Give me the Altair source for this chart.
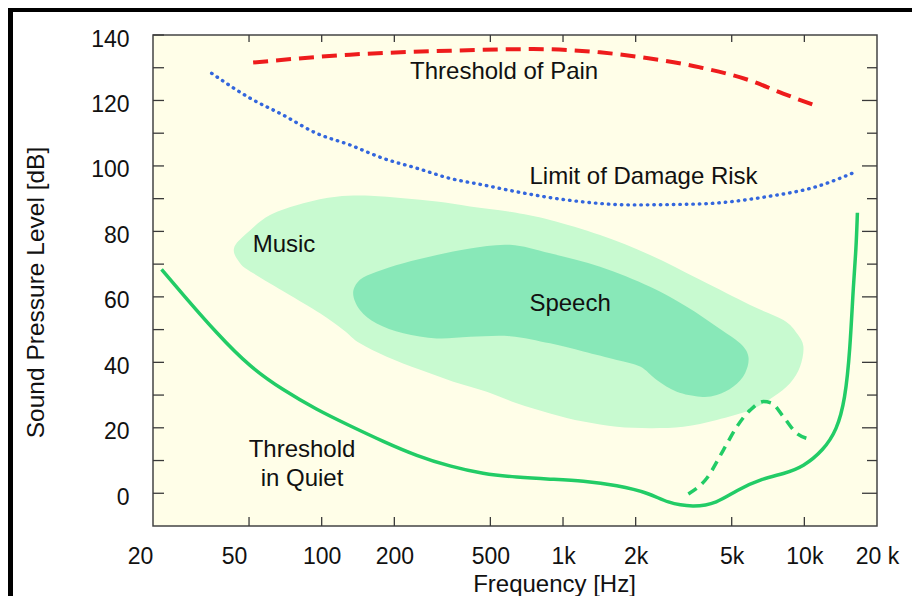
import altair as alt
import pandas as pd

FONT = "Liberation Sans"

# ---------------- data ----------------
# Threshold of Pain (red dashed)
pain_f = [52, 131, 340, 751, 1424, 2294, 3698, 5961, 8166, 10870]
pain_db = [131.6, 134.0, 135.2, 135.7, 134.7, 132.8, 130.1, 126.1, 122.1, 118.7]

# Limit of Damage Risk (blue dotted)
damage_f = [35, 50.5, 69, 95, 131, 180, 248, 340, 466, 643, 1036, 1951, 3698, 6988, 11260, 15970]
damage_db = [128.3, 120.7, 115.6, 110.0, 106.4, 102.3, 99.3, 96.2, 94.2, 92.1, 89.6, 88.1, 88.4, 90.6, 93.7, 97.9]

# Threshold in Quiet (green solid)
quiet_f = [21.7, 26.7, 36.7, 50.5, 69.3, 95, 131, 180, 248, 340, 466, 643, 884, 1214, 1670,
           2294, 2690, 3468, 4336, 5248, 6765, 8184, 9910, 12000, 13630, 14750, 15470, 15970, 16380, 16590]
quiet_db = [68.4, 60.6, 48.9, 38.5, 31.5, 25.6, 20.6, 15.8, 11.4, 8.2, 5.9, 4.9, 4.3, 3.8, 2.5,
            0.0, -2.9, -4.3, -3.1, 1.0, 4.6, 5.9, 8.1, 13.2, 19.3, 28.5, 43.8, 64.2, 74.3, 85.7]

# masked threshold (green dashed)
masked_f = [3306, 3942, 4618, 5248, 5961, 6765, 7328, 8184, 9304, 10300]
masked_db = [-0.2, 4.6, 13.2, 20.3, 25.4, 28.0, 27.5, 23.4, 18.3, 16.7]

# Music region outline (clockwise)
music_f = [43.3, 48.9, 61.1, 83.9, 115, 159, 218, 300, 412, 603, 884, 1424, 2294, 3698, 5961,
           8188, 9304, 9910, 9604, 8726, 7444, 5961, 4336, 3152, 2294, 1670, 1214, 884, 643,
           483, 351, 256, 186, 144, 123, 98.4, 71.6, 52.1, 45.9]
music_db = [74.8, 79.4, 85.0, 88.6, 90.6, 90.9, 90.1, 89.1, 87.6, 86.0, 83.5, 78.9, 72.8, 65.2, 57.5,
            52.9, 48.9, 44.8, 38.7, 33.6, 29.5, 25.4, 22.4, 20.3, 19.9, 20.3, 21.9, 24.4, 27.5,
            31.0, 34.1, 37.7, 41.7, 45.8, 49.9, 55.0, 61.1, 67.2, 70.3]

# Speech region outline (clockwise)
speech_f = [135, 144, 169, 218, 300, 412, 603, 884, 1424, 2294, 3257, 4336, 5417, 5864, 5681,
            5082, 4336, 3698, 2960, 2446, 2086, 1670, 1214, 884, 603, 412, 300, 218, 169, 144]
speech_db = [61.1, 65.2, 67.7, 70.3, 72.8, 74.8, 75.9, 73.3, 69.2, 63.1, 57.0, 50.9, 45.8, 41.7, 36.7,
             32.6, 30.0, 29.5, 31.0, 34.6, 38.7, 40.7, 43.3, 45.8, 48.0, 47.8, 47.3, 48.9, 51.9, 56.0]

# annotations
ann_text = ["Threshold of Pain", "Limit of Damage Risk", "Music", "Speech", "Threshold", "in Quiet"]
ann_f = [570, 2156, 69.8, 1070, 82.9, 82.9]
ann_db = [128.7, 96.7, 75.9, 57.8, 13.2, 4.3]

# axes
x_tick_vals = [20, 50, 100, 200, 500, 1000, 2000, 5000, 10000, 20000]
x_tick_labels = ["20", "50", "100", "200", "500", "1k", "2k", "5k", "10k", "20 k"]
x_inner_ticks = [50, 100, 200, 500, 1000, 2000, 5000, 10000]
y_label_vals = [0, 20, 40, 60, 80, 100, 120, 140]
y_major_ticks = [0, 20, 40, 60, 80, 100, 120]
y_minor_ticks = [10, 30, 50, 70, 90, 110, 130]

W, H = 724, 491
TICK = "#3a3a3a"
TXT = "#111111"

XS = alt.Scale(type="log", domain=[20, 20000], nice=False)
YS = alt.Scale(domain=[-10, 140], nice=False, zero=False)

label_expr = " : ".join(f"datum.value == {v} ? '{l}'" for v, l in zip(x_tick_vals, x_tick_labels)) + " : ''"

x_axis = alt.Axis(
    values=x_tick_vals, labelExpr=label_expr, ticks=False, domain=False, grid=False,
    labelFlush=False, labelOverlap=False, labelFont=FONT, labelFontSize=23, labelColor=TXT,
    labelBaseline="alphabetic", labelPadding=37,
    labelOffset={"condition": [{"test": "datum.value == 20", "value": -13},
                               {"test": "datum.value == 50", "value": -15}], "value": 0},
    title="Frequency [Hz]", titleFont=FONT, titleFontSize=24, titleFontWeight="normal",
    titleColor=TXT, titleX=401, titleY=65, titleAlign="center", titleBaseline="alphabetic",
)
y_axis = alt.Axis(
    values=y_label_vals, ticks=False, domain=False, grid=False, labelFlush=False,
    labelOverlap=False, labelFont=FONT, labelFontSize=23, labelColor=TXT, labelPadding=24,
    labelOffset=4,
    title="Sound Pressure Level [dB]", titleFont=FONT, titleFontSize=24.5, titleFontWeight="normal",
    titleColor=TXT, titleAngle=-90, titleX=-110, titleY=257, titleAlign="center",
    titleBaseline="alphabetic",
)

X = alt.X("f:Q", scale=XS, axis=x_axis)
Y = alt.Y("db:Q", scale=YS, axis=y_axis)


def series(fs, dbs):
    return pd.DataFrame({"f": fs, "db": dbs, "i": list(range(len(fs)))})


music = alt.Chart(series(music_f, music_db)).mark_line(
    filled=True, interpolate="cardinal-closed", color="#c8fad0"
).encode(x=X, y=Y, order="i:Q")

speech = alt.Chart(series(speech_f, speech_db)).mark_line(
    filled=True, interpolate="cardinal-closed", color="#88e8b8"
).encode(x=X, y=Y, order="i:Q")

pain = alt.Chart(series(pain_f, pain_db)).mark_line(
    color="#ee1c1c", strokeWidth=4, strokeDash=[15, 8], interpolate="monotone"
).encode(x=X, y=Y, order="i:Q")

damage = alt.Chart(series(damage_f, damage_db)).mark_line(
    color="#3366dd", strokeWidth=3.4, strokeDash=[0.5, 6], strokeCap="round", interpolate="monotone"
).encode(x=X, y=Y, order="i:Q")

quiet = alt.Chart(series(quiet_f, quiet_db)).mark_line(
    color="#22cc66", strokeWidth=3.5, interpolate="basis"
).encode(x=X, y=Y, order="i:Q")

masked = alt.Chart(series(masked_f, masked_db)).mark_line(
    color="#22cc66", strokeWidth=3.5, strokeDash=[10, 7], interpolate="monotone"
).encode(x=X, y=Y, order="i:Q")

ann = alt.Chart(pd.DataFrame({"f": ann_f, "db": ann_db, "t": ann_text})).mark_text(
    font=FONT, fontSize=24, color=TXT, align="center", baseline="middle"
).encode(x=X, y=Y, text="t:N")

xt = pd.DataFrame({"f": x_inner_ticks})
bottom_ticks = alt.Chart(xt).mark_rule(color=TICK, strokeWidth=1.3).encode(
    x=X, y=alt.value(H), y2=alt.value(H - 9))
top_ticks = alt.Chart(xt).mark_rule(color=TICK, strokeWidth=1.3).encode(
    x=X, y=alt.value(0), y2=alt.value(7))

left_ticks = alt.Chart(pd.DataFrame({"db": y_major_ticks + y_minor_ticks + [140]})).mark_rule(
    color=TICK, strokeWidth=1.3).encode(y=Y, x=alt.value(0), x2=alt.value(11))
right_major = alt.Chart(pd.DataFrame({"db": y_major_ticks})).mark_rule(
    color=TICK, strokeWidth=1.3).encode(y=Y, x=alt.value(W), x2=alt.value(W - 15))
right_minor = alt.Chart(pd.DataFrame({"db": y_minor_ticks})).mark_rule(
    color=TICK, strokeWidth=1.3).encode(y=Y, x=alt.value(W), x2=alt.value(W - 10))

# outer slide frame (decoration)
frame_top = alt.Chart(pd.DataFrame({"a": [0]})).mark_rule(color="black", strokeWidth=4).encode(
    x=alt.value(-145), x2=alt.value(W + 40), y=alt.value(-25))
frame_left = alt.Chart(pd.DataFrame({"a": [0]})).mark_rule(color="black", strokeWidth=5).encode(
    x=alt.value(-142.5), y=alt.value(-27), y2=alt.value(H + 70))

chart = alt.layer(
    music, speech, pain, damage, quiet, masked, ann,
    bottom_ticks, top_ticks, left_ticks, right_major, right_minor,
    frame_top, frame_left,
).properties(
    width=W, height=H,
    autosize=alt.AutoSizeParams(type="none"),
    padding={"left": 145, "top": 27, "right": 35, "bottom": 70},
    background="#ffffff",
).configure_view(
    fill="#fffee8", stroke="#444444", strokeWidth=1.5
)

chart.save("out.html", embed_options={"renderer": "svg", "actions": False})
